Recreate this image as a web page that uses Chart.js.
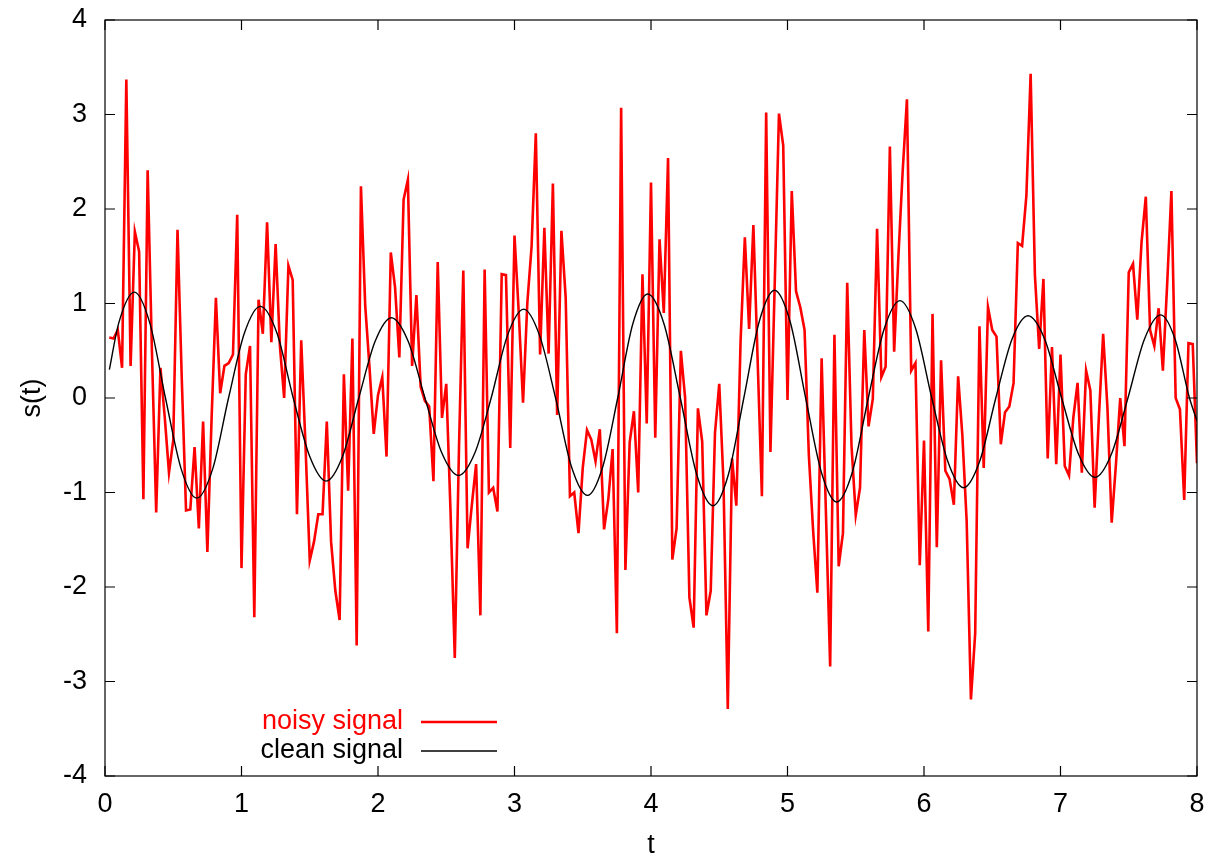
<!DOCTYPE html>
<html>
<head>
<meta charset="utf-8">
<script src="https://cdn.jsdelivr.net/npm/chart.js@4.4.1/dist/chart.umd.min.js"></script>
<style>
  html, body { margin: 0; padding: 0; background: #fff; }
  #wrap { width: 1209px; height: 859px; }
</style>
</head>
<body>
<div id="wrap"><canvas id="plot" width="1209" height="859"></canvas></div>
<script>
// sample step of the noisy signal (256 samples over t = 0..8)
const DT = 0.03125;

// noisy signal, one value per sample
const noisyS = [
    0.64, 0.63, 0.72, 0.32, 3.37, 0.34, 1.76, 1.55, -1.07, 2.41,
    0.5, -1.21, 0.32, -0.2, -0.79, -0.45, 1.78, 0.2, -1.19, -1.18,
    -0.52, -1.38, -0.25, -1.63, -0.2, 1.06, 0.05, 0.34, 0.37, 0.46,
    1.94, -1.80, 0.25, 0.55, -2.32, 1.04, 0.68, 1.86, 0.59, 1.63,
    0.55, 0.0, 1.40, 1.25, -1.23, 0.61, -0.5, -1.72, -1.52, -1.23,
    -1.23, -0.25, -1.52, -2.04, -2.35, 0.25, -0.98, 0.63, -2.62, 2.24,
    0.98, 0.33, -0.38, 0.03, 0.22, -0.62, 1.54, 1.17, 0.43, 2.10,
    2.31, 0.34, 1.09, 0.12, -0.03, -0.09, -0.88, 1.44, -0.21, 0.15,
    -1.2, -2.75, -0.5, 1.35, -1.59, -1.13, -0.70, -2.30, 1.36, -1.0,
    -0.95, -1.20, 1.31, 1.30, -0.53, 1.72, 0.9, -0.05, 1.0, 1.60,
    2.80, 0.46, 1.80, 0.47, 2.27, -0.18, 1.77, 1.06, -1.04, -1.0,
    -1.43, -0.74, -0.34, -0.44, -0.67, -0.33, -1.39, -1.07, -0.54, -2.49,
    3.07, -1.82, -0.47, -0.14, -1.0, 1.31, -0.27, 2.28, -0.42, 1.68,
    0.90, 2.54, -1.71, -1.38, 0.50, 0.0, -2.11, -2.43, -0.11, -0.46,
    -2.30, -2.04, -0.37, 0.15, -0.9, -3.29, -0.64, -1.14, 0.6, 1.70,
    0.73, 1.83, 0.4, -1.04, 3.02, -0.57, 1.2, 3.01, 2.67, -0.02,
    2.19, 1.13, 0.96, 0.72, -0.6, -1.4, -2.06, 0.42, -1.2, -2.84,
    0.67, -1.78, -1.43, 1.22, -0.5, -1.24, -0.95, 0.72, -0.30, -0.01,
    1.79, 0.22, 0.33, 2.66, 0.49, 1.5, 2.4, 3.16, 0.29, 0.37,
    -1.77, -0.45, -2.47, 0.89, -1.58, 0.40, -0.77, -0.86, -1.13, 0.23,
    -0.4, -1.3, -3.19, -2.49, 0.76, -0.74, 0.96, 0.72, 0.65, -0.49,
    -0.15, -0.09, 0.16, 1.64, 1.61, 2.14, 3.43, 1.30, 0.52, 1.26,
    -0.64, 0.54, -0.70, 0.46, -0.72, -0.82, -0.21, 0.16, -0.79, 0.29,
    0.08, -1.16, -0.2, 0.68, -0.1, -1.32, -0.7, 0.0, -0.51, 1.33,
    1.42, 0.83, 1.65, 2.13, 0.72, 0.55, 0.95, 0.29, 1.2, 2.19,
    0.0, -0.12, -1.08, 0.58, 0.57, -0.69,
];

// clean signal: peaks, troughs, zero crossings and shoulders
const cleanT = [
    0.032, 0.10, 0.215, 0.329, 0.443, 0.558, 0.672, 0.789, 0.905, 1.022,
    1.138, 1.259, 1.379, 1.50, 1.62, 1.74, 1.859, 1.979, 2.098, 2.221,
    2.344, 2.467, 2.59, 2.71, 2.829, 2.948, 3.067, 3.184, 3.301, 3.418,
    3.535, 3.646, 3.756, 3.866, 3.976, 4.096, 4.215, 4.335, 4.454, 4.567,
    4.68, 4.793, 4.905, 5.019, 5.133, 5.247, 5.36, 5.476, 5.592, 5.708,
    5.824, 5.94, 6.057, 6.174, 6.29, 6.408, 6.526, 6.644, 6.762, 6.885,
    7.008, 7.131, 7.253, 7.374, 7.494, 7.614, 7.734, 7.84, 7.945, 8.0,
];
const cleanS = [
    0.30, 0.79, 1.12, 0.79, 0, -0.75, -1.06, -0.75, 0, 0.69,
    0.97, 0.69, 0, -0.62, -0.88, -0.62, 0, 0.60, 0.85, 0.60,
    0, -0.58, -0.82, -0.58, 0, 0.66, 0.94, 0.66, 0, -0.73,
    -1.03, -0.73, 0, 0.78, 1.10, 0.78, 0, -0.81, -1.14, -0.81,
    0, 0.81, 1.14, 0.81, 0, -0.78, -1.10, -0.78, 0, 0.73,
    1.03, 0.73, 0, -0.67, -0.95, -0.67, 0, 0.62, 0.87, 0.62,
    0, -0.59, -0.84, -0.59, 0, 0.62, 0.88, 0.62, 0, -0.24,
];

const X_TICKS = [0, 1, 2, 3, 4, 5, 6, 7, 8];
const Y_TICKS = [-4, -3, -2, -1, 0, 1, 2, 3, 4];

const FONT = 'Liberation Sans, Arial, Helvetica, sans-serif';
const FS = 27;

// gnuplot-like frame: full box with inward ticks on all four sides,
// axis titles and the text-then-line key in the lower left
const gnuplotFrame = {
    id: 'gnuplotFrame',
    afterDraw(chart) {
        const { ctx, chartArea: a, scales } = chart;
        const TL = 10;
        ctx.save();
        ctx.strokeStyle = '#000';
        ctx.lineWidth = 1.2;
        ctx.strokeRect(a.left, a.top, a.right - a.left, a.bottom - a.top);
        ctx.beginPath();
        X_TICKS.forEach(v => {
            const px = scales.x.getPixelForValue(v);
            ctx.moveTo(px, a.bottom); ctx.lineTo(px, a.bottom - TL);
            ctx.moveTo(px, a.top);    ctx.lineTo(px, a.top + TL);
        });
        Y_TICKS.forEach(v => {
            const py = scales.y.getPixelForValue(v);
            ctx.moveTo(a.left, py);  ctx.lineTo(a.left + TL, py);
            ctx.moveTo(a.right, py); ctx.lineTo(a.right - TL, py);
        });
        ctx.stroke();

        // axis titles
        ctx.fillStyle = '#000';
        ctx.font = `${FS}px ${FONT}`;
        ctx.textAlign = 'center';
        ctx.textBaseline = 'middle';
        ctx.fillText('t', (a.left + a.right) / 2, 846);
        ctx.save();
        ctx.translate(33, (a.top + a.bottom) / 2);
        ctx.rotate(-Math.PI / 2);
        ctx.fillText('s(t)', 0, 0);
        ctx.restore();

        // key
        const keyY = [722, 751];
        chart.data.datasets.forEach((ds, i) => {
            ctx.fillStyle = ds.borderColor;
            ctx.textAlign = 'right';
            ctx.fillText(ds.label, 403, keyY[i]);
            ctx.strokeStyle = ds.borderColor;
            ctx.lineWidth = ds.borderWidth;
            ctx.beginPath();
            ctx.moveTo(421, keyY[i]);
            ctx.lineTo(497, keyY[i]);
            ctx.stroke();
        });
        ctx.restore();
    },
};

new Chart(document.getElementById('plot'), {
    type: 'line',
    data: {
        datasets: [
            {
                label: 'noisy signal',
                data: noisyS.map((s, i) => ({ x: (i + 1) * DT, y: s })),
                borderColor: '#ff0000',
                borderWidth: 2.6,
                pointRadius: 0,
                tension: 0,
                order: 1,
            },
            {
                label: 'clean signal',
                data: cleanS.map((s, i) => ({ x: cleanT[i], y: s })),
                borderColor: '#000000',
                borderWidth: 1.4,
                pointRadius: 0,
                cubicInterpolationMode: 'monotone',
                order: 0,
            },
        ],
    },
    options: {
        responsive: false,
        animation: false,
        devicePixelRatio: 1,
        layout: { padding: { top: 20, right: 12, left: 0, bottom: 0 } },
        plugins: {
            legend: { display: false },
            tooltip: { enabled: false },
        },
        scales: {
            x: {
                type: 'linear',
                min: 0,
                max: 8,
                afterFit: s => {
                    s.height = 83;
                    s.paddingLeft = 0;
                    s.paddingRight = 0;
                },
                afterBuildTicks: s => { s.ticks = X_TICKS.map(v => ({ value: v })); },
                grid: { display: false, drawTicks: false },
                border: { display: false },
                ticks: {
                    color: '#000',
                    padding: 12,
                    maxRotation: 0,
                    font: { family: FONT, size: FS },
                },
            },
            y: {
                min: -4,
                max: 4,
                afterFit: s => {
                    s.width = 105;
                    s.paddingTop = 0;
                    s.paddingBottom = 0;
                },
                afterBuildTicks: s => { s.ticks = Y_TICKS.map(v => ({ value: v })); },
                grid: { display: false, drawTicks: false },
                border: { display: false },
                ticks: {
                    color: '#000',
                    padding: 18,
                    font: { family: FONT, size: FS },
                },
            },
        },
    },
    plugins: [gnuplotFrame],
});
</script>
</body>
</html>
